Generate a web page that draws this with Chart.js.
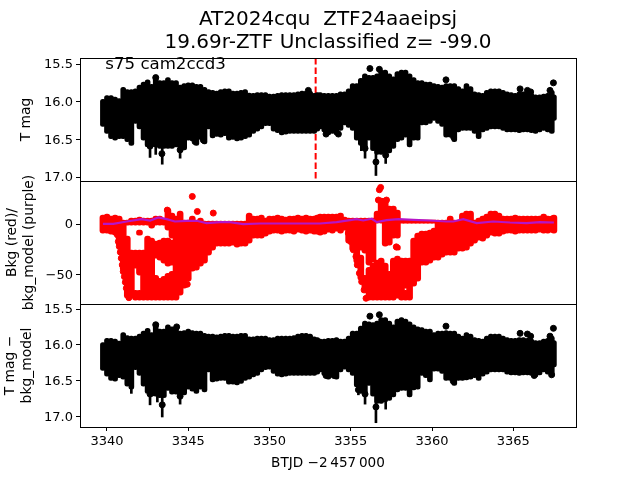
<!DOCTYPE html>
<html>
<head>
<meta charset="UTF-8">
<title>AT2024cqu</title>
<style>
  html, body { margin: 0; padding: 0; background: #fff; }
  canvas { display: block; }
</style>
<script src="https://cdn.jsdelivr.net/npm/chart.js"></script>
</head>
<body>
<canvas id="grafico" width="640" height="480"></canvas>
<script>
// black envelope, one column every quarter day
const magT = [3339.75,3340,3340.25,3340.5,3340.75,3341,3341.25,3341.5,3341.75,3342,3342.25,3342.5,3342.75,3343,3343.25,3343.5,3343.75,3344,3344.25,3344.5,3344.75,3345,3345.25,3345.5,3345.75,3346,3346.25,3346.5,3346.75,3347,3347.25,3347.5,3347.75,3348,3348.25,3348.5,3348.75,3349,3349.25,3349.5,3349.75,3350,3350.25,3350.5,3350.75,3351,3351.25,3351.5,3351.75,3352,3352.25,3352.5,3352.75,3352.94,3353.12,3353.37,3353.62,3353.87,3354.12,3354.37,3354.62,3354.87,3355.12,3355.37,3355.62,3355.87,3356.12,3356.37,3356.62,3356.87,3357.12,3357.37,3357.62,3357.87,3358.12,3358.37,3358.62,3358.87,3359.12,3359.37,3359.62,3359.87,3360.12,3360.37,3360.62,3360.87,3361.12,3361.37,3361.62,3361.87,3362.12,3362.37,3362.62,3362.87,3363.12,3363.37,3363.62,3363.87,3364.12,3364.37,3364.62,3364.87,3365.12,3365.37,3365.62,3365.87,3366.12,3366.37,3366.62,3366.87,3367.12,3367.37,3367.5];
const mag1Top = [15.97,15.92,15.92,15.94,15.96,15.81,15.84,15.84,15.83,15.78,15.74,15.71,15.77,15.65,15.72,15.72,15.68,15.72,15.72,15.78,15.76,15.75,15.75,15.77,15.77,15.81,15.84,15.85,15.86,15.84,15.83,15.83,15.86,15.86,15.85,15.84,15.885,15.89,15.88,15.88,15.88,15.90,15.90,15.89,15.88,15.88,15.88,15.88,15.87,15.86,15.86,15.86,15.89,15.88,15.88,15.89,15.89,15.89,15.89,15.87,15.87,15.83,15.76,15.76,15.69,15.63,15.65,15.65,15.63,15.58,15.58,15.63,15.67,15.60,15.58,15.58,15.63,15.68,15.72,15.72,15.74,15.74,15.76,15.77,15.78,15.76,15.76,15.76,15.80,15.83,15.76,15.80,15.87,15.88,15.89,15.85,15.83,15.83,15.83,15.85,15.87,15.88,15.89,15.87,15.87,15.88,15.89,15.91,15.91,15.90,15.89,15.85,15.91];
const mag1Bot = [16.33,16.42,16.49,16.51,16.49,16.49,16.53,16.58,16.29,16.36,16.51,16.60,16.60,16.60,16.62,16.62,16.62,16.62,16.60,16.62,16.64,16.51,16.52,16.58,16.50,16.56,16.36,16.48,16.46,16.47,16.45,16.51,16.50,16.52,16.51,16.49,16.47,16.42,16.39,16.36,16.32,16.32,16.39,16.41,16.44,16.43,16.42,16.42,16.42,16.42,16.42,16.42,16.42,16.39,16.36,16.40,16.44,16.42,16.44,16.38,16.31,16.34,16.38,16.51,16.58,16.62,16.51,16.65,16.70,16.70,16.68,16.68,16.62,16.53,16.51,16.47,16.60,16.51,16.51,16.31,16.31,16.29,16.25,16.29,16.33,16.47,16.47,16.53,16.40,16.38,16.38,16.38,16.42,16.49,16.40,16.38,16.36,16.36,16.36,16.38,16.40,16.40,16.40,16.41,16.40,16.40,16.41,16.42,16.40,16.38,16.40,16.42,16.25];
const mag3Top = [15.97,15.91,15.91,15.92,15.95,15.83,15.87,15.88,15.88,15.85,15.81,15.77,15.83,15.69,15.78,15.78,15.72,15.75,15.74,15.81,15.80,15.78,15.80,15.81,15.81,15.84,15.85,15.85,15.86,15.85,15.84,15.84,15.85,15.85,15.84,15.84,15.89,15.89,15.88,15.88,15.88,15.90,15.90,15.88,15.88,15.88,15.88,15.87,15.85,15.84,15.84,15.85,15.89,15.90,15.92,15.92,15.91,15.91,15.90,15.92,15.92,15.88,15.81,15.81,15.74,15.67,15.68,15.69,15.67,15.62,15.62,15.67,15.72,15.64,15.62,15.64,15.68,15.72,15.75,15.76,15.78,15.78,15.83,15.81,15.81,15.80,15.81,15.81,15.85,15.88,15.83,15.85,15.90,15.91,15.92,15.88,15.85,15.85,15.85,15.88,15.90,15.91,15.91,15.90,15.90,15.91,15.92,15.94,15.94,15.92,15.91,15.88,15.94];
const mag3Bot = [16.36,16.44,16.50,16.51,16.46,16.48,16.58,16.62,16.35,16.43,16.58,16.68,16.72,16.72,16.74,16.74,16.64,16.69,16.69,16.72,16.70,16.62,16.65,16.68,16.62,16.66,16.38,16.52,16.51,16.50,16.50,16.55,16.55,16.56,16.54,16.50,16.48,16.45,16.43,16.38,16.35,16.34,16.40,16.44,16.45,16.44,16.43,16.43,16.43,16.43,16.43,16.43,16.43,16.41,16.38,16.43,16.48,16.45,16.48,16.38,16.34,16.38,16.43,16.59,16.68,16.72,16.57,16.72,16.82,16.82,16.80,16.78,16.73,16.66,16.64,16.64,16.73,16.63,16.62,16.43,16.46,16.52,16.37,16.37,16.40,16.50,16.50,16.57,16.50,16.50,16.49,16.48,16.46,16.50,16.44,16.41,16.38,16.38,16.38,16.38,16.41,16.42,16.42,16.43,16.42,16.42,16.43,16.45,16.42,16.38,16.41,16.45,16.31];

// thin error bars that hang below the band
const spike1T = [3342.65,3343.0,3343.4,3344.5,3355.65,3355.88,3356.55,3357.15];
const spike1Top = [16.4,16.4,16.5,16.5,16.5,16.5,16.5,16.5];
const spike1Bot = [16.74,16.7,16.83,16.75,16.65,16.75,16.98,16.82];
const spike3T = [3341.5,3342.65,3343.1,3343.4,3344.5,3355.47,3355.88,3356.55,3357.15];
const spike3Top = [16.4,16.5,16.5,16.5,16.5,16.5,16.5,16.5,16.5];
const spike3Bot = [16.68,16.84,16.8,17.01,16.83,16.7,16.83,17.09,16.9];

// single points that stand clear of the black band
const dots1T = [3342.65,3343.0,3343.38,3344.5,3345.42,3345.93,3352.39,3356.18,3356.76,3360.86,3365.42,3365.87,3366.07,3367.26,3367.47,3356.55,3355.88,3357.15,3361.33,3353.48,3354.24];
const dots1Mag = [16.59,15.68,16.69,16.64,16.53,16.51,15.85,15.56,15.57,15.71,15.83,15.85,15.87,15.85,15.75,16.80,16.62,16.71,16.47,16.43,16.43];
const dots3T = [3342.65,3343.0,3343.4,3344.5,3345.42,3345.93,3344.29,3356.18,3356.76,3355.88,3355.47,3356.55,3360.86,3361.31,3353.48,3353.97,3365.42,3365.87,3366.07,3367.26,3367.47,3366.29,3367.36];
const dots3Mag = [16.69,15.72,16.84,16.72,16.60,16.57,15.75,15.60,15.58,16.69,16.63,16.87,15.74,16.51,16.43,16.43,15.84,15.85,15.88,15.88,15.77,16.43,16.42];

// red background runs, a day column can hold several runs
const redT = [3339.75,3340,3340.25,3340.5,3340.75,3341,3341.25,3341.25,3341.5,3341.5,3341.75,3341.75,3341.75,3342,3342,3342,3342,3342.25,3342.25,3342.5,3342.5,3342.75,3342.75,3343,3343,3343,3343.25,3343.25,3343.25,3343.5,3343.5,3343.5,3343.75,3343.75,3343.75,3344,3344,3344,3344.25,3344.5,3344.75,3345,3345.25,3345.5,3345.75,3346,3346.25,3346.5,3346.75,3347,3347.25,3347.5,3347.75,3348,3348.25,3348.5,3348.75,3349,3349.25,3349.5,3349.75,3350,3350.25,3350.5,3350.75,3351,3351.25,3351.5,3351.75,3352,3352.25,3352.5,3352.75,3352.94,
  3353.12,3353.37,3353.62,3353.87,3354.12,3354.37,3354.62,3354.87,3355.12,3355.37,3355.62,3355.62,3355.87,3355.87,3356.12,3356.12,3356.37,3356.37,3356.62,3356.62,3356.87,3356.87,3357.12,3357.12,3357.37,3357.37,3357.62,3357.62,3357.87,3357.87,3357.87,3358.12,3358.12,3358.37,3358.37,3358.37,3358.62,3358.62,3358.87,3358.87,3359.12,3359.12,3359.37,3359.37,3359.62,3359.62,3359.87,3359.87,3360.12,3360.12,3360.37,3360.62,3360.87,3361.12,3361.37,3361.62,3361.87,3362.12,3362.37,3362.62,3362.87,3363.12,3363.37,3363.62,3363.87,3364.12,3364.37,3364.62,3364.87,3365.12,3365.37,3365.62,3365.87,3366.12,3366.37,3366.62,3366.87,3367.12,3367.37,3367.5];
const redHi = [9,10,8,9,8,4,4,-12,6,-26,6,-26,-66,7,-6,-26,-66,6,-26,6,-12,6,-14,8,-17,-51,8,-16,-54,6,-14,-52,16,-14,-49,11,-16,-47,8,13,4,4,8,3,6,3,3,3,3,3,3,3,3,3,3,3,11,8,8,9,6,8,8,9,8,7,8,8,9,8,9,8,8,9,
  10,10,10,10,10,11,7,6,6,6,6,-31,6,-51,6,-43,6,-39,13,-36,26,-34,26,-39,18,-47,18,-34,14,-21,-32,4,-34,4,-34,-66,4,-34,4,-14,4,-9,4,-7,4,-7,4,-6,4,-4,4,4,4,8,4,4,11,13,13,4,6,8,10,13,13,11,8,8,8,9,8,8,8,8,8,8,10,8,8,9];
const redLo = [-9,-9,-10,-11,-22,-47,-1,-74,-1,-74,-1,-44,-76,-1,-11,-51,-76,-1,-76,-1,-76,-4,-76,-1,-34,-76,-1,-36,-76,-1,-39,-76,-6,-42,-76,-14,-41,-76,-76,-71,-64,-57,-47,-46,-42,-39,-31,-26,-22,-22,-22,-22,-21,-23,-22,-22,-19,-14,-14,-14,-12,-10,-9,-9,-10,-9,-9,-10,-8,-9,-10,-9,-10,-10,
  -11,-10,-8,-9,-7,-9,-6,-19,-27,-39,-26,-56,-29,-66,-41,-76,-38,-76,1,-76,1,-76,-22,-76,-21,-76,-14,-76,-14,-26,-74,1,-76,1,-64,-76,1,-76,1,-62,1,-57,1,-41,1,-41,1,-39,1,-36,-36,-33,-31,-31,-31,-27,-27,-26,-22,-19,-16,-17,-14,-11,-12,-12,-10,-9,-9,-10,-9,-9,-9,-9,-9,-8,-9,-9,-8,-9,-9];
// red single points, the two slanted edges of the dips included
const redDotsT = [3345.25,3345.56,3346.54,3343.71,3344.94,3356.84,3356.76,3356.7,3357.2,3357.8,3340.64,3340.7,3340.76,3340.82,3340.88,3340.94,3341.0,3341.07,3341.13,3341.19,3341.27,3341.35,3354.85,3354.99,3355.16,3355.32,3355.4,3355.53,3355.67,3355.82,3355.94];
const redDotsV = [27.6,12.6,11,14,-60,36.6,34.3,24,24,-22.7,-10.7,-17.4,-22.4,-28,-34,-40.7,-47.4,-52.4,-58,-64,-69,-73.4,-9,-17.4,-25.7,-32.4,-40.7,-49,-57.4,-65.7,-74];

const bkgModelT = [3339.75,3340.39,3341.21,3342.13,3342.65,3343.16,3343.67,3344.18,3344.9,3345.52,3346.13,3346.95,3347.57,3348.39,3349.42,3350.44,3351.47,3352.49,3353.11,3354.13,3355.36,3355.77,3356.29,3356.6,3357.21,3357.93,3358.85,3359.87,3360.9,3361.31,3361.92,3362.75,3363.77,3364.8,3365.82,3366.64,3367.5];
const bkgModelV = [0.3,0.3,2.6,5,3.6,6.6,5,2.6,3.3,3.3,1,2,2,0,0.6,0.6,0.6,0.6,0.6,2,5,3.6,5.3,2,4,5,4.3,3.6,2.6,2.6,5,1,2.6,1.6,1,2,1.6];

const tiempoTicks = [3340,3345,3350,3355,3360,3365];
const magTicks = [15.5,16,16.5,17];
const bkgTicks = [-50,0];
const tiempoEvento = 3352.84;
const etiqueta = 's75 cam2ccd3';

const fuente = 'DejaVu Sans';

const columnas = (t, a, b) => t.map((v, i) => ({ x: v, y: [a[i], b[i]] }));
const puntos = (t, y) => t.map((v, i) => ({ x: v, y: y[i] }));

const marco = {
  id: 'marco',
  afterDraw(chart) {
    const { ctx, chartArea, scales } = chart;
    ctx.save();
    ctx.strokeStyle = '#000';
    ctx.lineWidth = 1;
    ['y1', 'y2', 'y3'].forEach(id => {
      const s = scales[id];
      ctx.strokeRect(chartArea.left + 0.5, Math.round(s.top) + 0.5, chartArea.right - chartArea.left, Math.round(s.bottom - s.top));
    });
    ctx.fillStyle = '#000';
    ctx.font = '16.6px "' + fuente + '"';
    ctx.textBaseline = 'middle';
    ctx.fillText(etiqueta, scales.x.getPixelForValue(3339.9), scales.y1.getPixelForValue(15.5) + 1);
    ctx.restore();
  }
};

function ejeY(id, min, max, reverse, ticks, titulo, padTitulo) {
  return {
    type: 'linear',
    position: 'left',
    stack: 'paneles',
    stackWeight: 1,
    min: min,
    max: max,
    reverse: reverse,
    afterBuildTicks: s => { s.ticks = ticks.map(v => ({ value: v })); },
    afterFit: s => { s.width = 80; },
    grid: { drawOnChartArea: false, tickLength: 4, tickColor: '#000' },
    border: { color: '#000' },
    ticks: {
      color: '#000',
      font: { family: fuente, size: 13 },
      padding: 3,
      labelOffset: 1,
      autoSkip: false,
      callback: v => id === 'y2' ? String(v).replace('-', '\u2212') : v.toFixed(1)
    },
    title: { display: true, text: titulo, color: '#000', font: { family: fuente, size: 13.89 }, padding: padTitulo }
  };
}

new Chart(document.getElementById('grafico'), {
  type: 'bar',
  data: {
    datasets: [
      { type: 'line', data: puntos(bkgModelT, bkgModelV), yAxisID: 'y2', borderColor: '#b515c8', borderWidth: 2.2, pointRadius: 0, order: 2 },
      { type: 'scatter', data: puntos(dots1T, dots1Mag), yAxisID: 'y1', backgroundColor: '#000', borderColor: '#000', pointRadius: 3, order: 3 },
      { type: 'scatter', data: puntos(dots3T, dots3Mag), yAxisID: 'y3', backgroundColor: '#000', borderColor: '#000', pointRadius: 3, order: 3 },
      { type: 'scatter', data: puntos(redDotsT, redDotsV), yAxisID: 'y2', backgroundColor: '#f00', borderColor: '#f00', pointRadius: 3, order: 3 },
      { data: columnas(magT, mag1Top, mag1Bot), yAxisID: 'y1', backgroundColor: '#000', barThickness: 5, borderRadius: 2.5, borderSkipped: false, grouped: false, order: 4 },
      { data: columnas(magT, mag3Top, mag3Bot), yAxisID: 'y3', backgroundColor: '#000', barThickness: 5, borderRadius: 2.5, borderSkipped: false, grouped: false, order: 4 },
      { data: columnas(spike1T, spike1Top, spike1Bot), yAxisID: 'y1', backgroundColor: '#000', barThickness: 2, borderSkipped: false, grouped: false, order: 4 },
      { data: columnas(spike3T, spike3Top, spike3Bot), yAxisID: 'y3', backgroundColor: '#000', barThickness: 2, borderSkipped: false, grouped: false, order: 4 },
      { data: columnas(redT, redHi, redLo), yAxisID: 'y2', backgroundColor: '#f00', barThickness: 6, borderRadius: 3, borderSkipped: false, grouped: false, order: 4 },
      { type: 'line', data: [{ x: tiempoEvento, y: 15.42 }, { x: tiempoEvento, y: 17.05 }], yAxisID: 'y1', borderColor: '#f00', borderWidth: 2, borderDash: [6.5, 3], pointRadius: 0, order: 5 }
    ]
  },
  options: {
    responsive: false,
    animation: false,
    events: [],
    layout: { padding: { right: 64 } },
    plugins: {
      legend: { display: false },
      tooltip: { enabled: false },
      title: {
        display: true,
        fullSize: false,
        text: ['AT2024cqu  ZTF24aaeipsj', '19.69r-ZTF Unclassified z= -99.0'],
        color: '#000',
        font: { family: fuente, size: 20, weight: 'normal', lineHeight: 1.15 },
        padding: { top: 8, bottom: 4 }
      }
    },
    scales: {
      x: {
        type: 'linear',
        offset: false,
        min: 3338.34,
        max: 3368.86,
        afterBuildTicks: s => { s.ticks = tiempoTicks.map(v => ({ value: v })); },
        afterFit: s => { s.height = 53; },
        grid: { offset: false, drawOnChartArea: false, tickLength: 4, tickColor: '#000' },
        border: { color: '#000' },
        ticks: { color: '#000', font: { family: fuente, size: 13 }, padding: 3, maxRotation: 0, autoSkip: false, callback: v => String(v) },
        title: { display: true, text: 'BTJD \u22122\u2009457\u2009000', color: '#000', font: { family: fuente, size: 13.6 }, padding: { top: 0, bottom: 8 } }
      },
      y3: ejeY('y3', 15.43, 17.15, true, magTicks, ['T mag \u2212', 'bkg_model'], 2.5),
      y2: ejeY('y2', -79.7, 43, false, bkgTicks, ['Bkg (red)/', 'bkg_model (purple)'], 4),
      y1: ejeY('y1', 15.42, 17.053, true, magTicks, 'T mag', 18)
    }
  },
  plugins: [marco]
});
</script>
</body>
</html>
